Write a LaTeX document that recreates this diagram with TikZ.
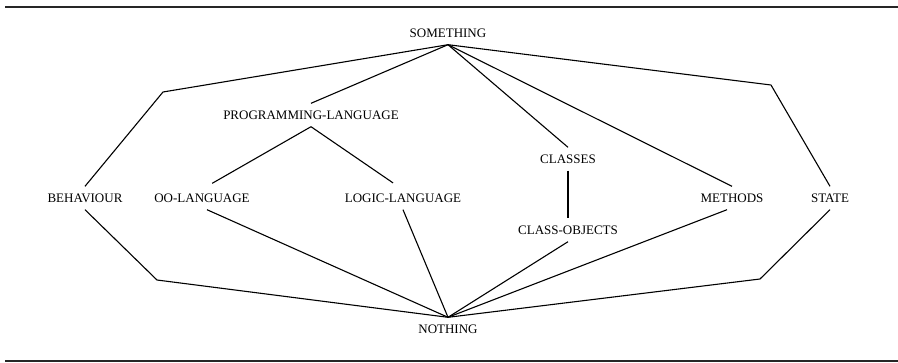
\documentclass[tikz,border=0pt]{standalone}
\usepackage{fontspec}
\setmainfont{Liberation Serif}
\usetikzlibrary{positioning}

\begin{document}
\begin{tikzpicture}[x=1pt,y=-1pt,every node/.style={font=\fontsize{13}{15}\selectfont,inner sep=0pt,minimum height=23pt,text height=9pt,text depth=0pt},edge/.style={line width=1.1pt,line join=round},rule/.style={line width=1.8pt,black!85}]
\useasboundingbox (0,0) rectangle (898,362);
\draw[rule] (5,7) -- (898,7);
\draw[rule] (5,361) -- (898,361);
\node (something) at (448,33) {SOMETHING};
\node (proglang) at (311,115) {PROGRAMMING-LANGUAGE};
\node (behaviour) at (85,198) {BEHAVIOUR};
\node (oolang) at (202,198) {OO-LANGUAGE};
\node (logiclang) at (403,198) {LOGIC-LANGUAGE};
\node (classes) at (568,159) {CLASSES};
\node (classobj) at (568,230) {CLASS-OBJECTS};
\node (methods) at (732,198) {METHODS};
\node (state) at (830,198) {STATE};
\node (nothing) at (448,329) {NOTHING};
\coordinate (bendtl) at (163,92);
\coordinate (bendbl) at (157,280);
\coordinate (bendtr) at (771,85);
\coordinate (bendbr) at (760,279);
% upper half
\draw[edge] (something.south) -- (bendtl) -- (behaviour.north);
\draw[edge] (something.south) -- (proglang.north);
\draw[edge] (something.south) -- (classes.north);
\draw[edge] (something.south) -- (methods.north);
\draw[edge] (something.south) -- (bendtr) -- (state.north);
\draw[edge,shorten >=6pt] (proglang.south) -- ([xshift=5pt]oolang.north);
\draw[edge,shorten >=6pt] (proglang.south) -- ([xshift=-5pt]logiclang.north);
\draw[edge] (classes.south) -- (classobj.north);
% lower half
\draw[edge] (behaviour.south) -- (bendbl) -- (nothing.north);
\draw[edge] ([xshift=5pt]oolang.south) -- (nothing.north);
\draw[edge] (logiclang.south) -- (nothing.north);
\draw[edge] (classobj.south) -- (nothing.north);
\draw[edge] ([xshift=-5pt]methods.south) -- (nothing.north);
\draw[edge] (state.south) -- (bendbr) -- (nothing.north);
\end{tikzpicture}
\end{document}
